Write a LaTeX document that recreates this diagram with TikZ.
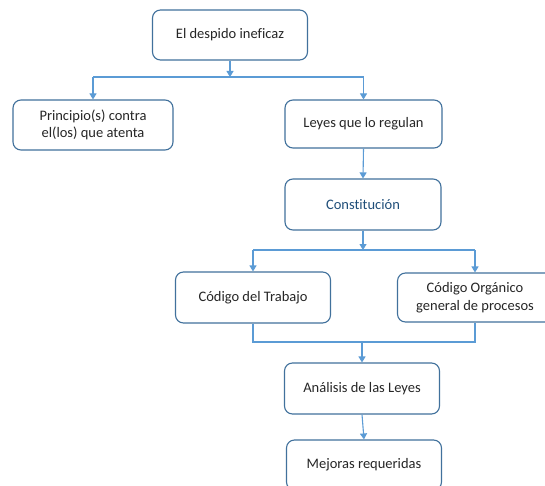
\documentclass[tikz,border=0pt]{standalone}
\usepackage{fontspec}
\setmainfont[Ligatures={NoCommon}]{Carlito}
\usetikzlibrary{arrows.meta,calc}
\definecolor{boxline}{RGB}{65,113,156}
\definecolor{conn}{RGB}{91,155,213}
\definecolor{txt}{RGB}{38,38,38}
\definecolor{darkblue}{RGB}{31,78,121}
\tikzset{
  box/.style={draw=boxline, line width=1.1pt, rounded corners=8pt, fill=white,
    minimum width=155pt, minimum height=50pt, align=center, text=txt,
    font=\fontsize{14.5}{17.5}\selectfont, inner sep=2pt},
  link/.style={draw=conn, line width=1.1pt},
  arr/.style={link, -{Triangle[length=6pt,width=7pt]}}
}
\begin{document}
\begin{tikzpicture}[x=1pt,y=-1pt]
\useasboundingbox (0,0) rectangle (545,486);
\clip (0,0) rectangle (545,486);
\fill[white] (0,0) rectangle (545,486);
% nodes
\node[box] (top) at (230,35) {El despido ineficaz};
\node[box, minimum width=160pt] (prin) at (93,125) {Principio(s) contra\\el(los) que atenta};
\node[box, minimum width=157pt, minimum height=48pt] (leyes) at (363.5,124) {Leyes que lo regulan};
\node[box, minimum width=156pt, minimum height=51pt, text=darkblue] (const) at (363,204.5) {Constitución};
\node[box, minimum height=51pt] (ct) at (253,297.5) {Código del Trabajo};
\node[box, minimum height=49pt] (co) at (475,297.5) {Código Orgánico\\general de procesos};
\node[box, minimum height=51pt] (anal) at (362,388.5) {Análisis de las Leyes};
\node[box, minimum height=50pt] (mej) at (364,465) {Mejoras requeridas};
% junctions
\coordinate (j1) at (top.south |- 0,77);
\coordinate (j1l) at (prin.north |- 0,77);
\coordinate (j1r) at (leyes.north |- 0,77);
\coordinate (j2) at (const.south |- 0,250);
\coordinate (j2l) at (ct.north |- 0,250);
\coordinate (j2r) at (co.north |- 0,250);
\coordinate (j3l) at (ct.south |- 0,342);
\coordinate (j3r) at (co.south |- 0,342);
\coordinate (j3) at (anal.north |- 0,342);
% connectors
\draw[link] (j1l) -- (j1r);
\draw[arr] (top.south) -- (j1);
\draw[arr] (j1l) -- (prin.north);
\draw[arr] (j1r) -- (leyes.north);
\draw[arr] (leyes.south) -- (const.north);
\draw[link] (j2l) -- (j2r);
\draw[arr] (const.south) -- (j2);
\draw[arr] (j2l) -- (ct.north);
\draw[arr] (j2r) -- (co.north);
\draw[link] (ct.south) -- (j3l) -- (j3r) -- (co.south);
\draw[arr] (j3) -- (anal.north);
\draw[arr] (anal.south) -- (mej.north);
\end{tikzpicture}
\end{document}
